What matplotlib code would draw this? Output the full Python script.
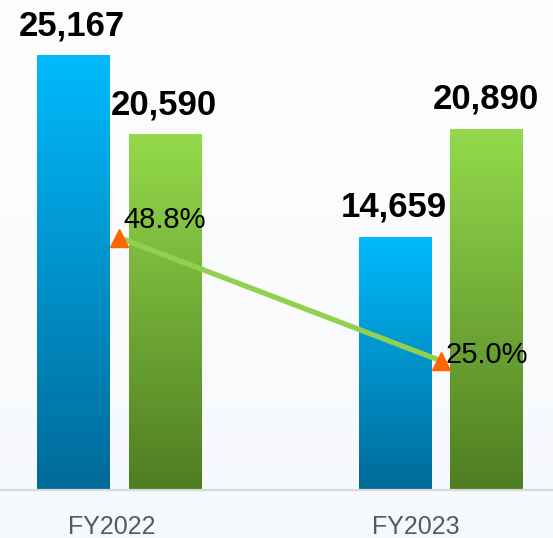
import numpy as np
import matplotlib
matplotlib.use("Agg")
import matplotlib.pyplot as plt
from matplotlib.colors import LinearSegmentedColormap
from matplotlib.transforms import ScaledTranslation

years = ["FY2022", "FY2023"]
blue_vals = [25167, 14659]
green_vals = [20590, 20890]
pct_vals = [48.8, 25.0]
pct_labels = ["48.8%", "25.0%"]

plt.rcParams['font.family'] = ['Liberation Sans', 'DejaVu Sans']

fig = plt.figure(figsize=(5.53, 5.38), dpi=100)

# soft background gradient
bg = fig.add_axes([0, 0, 1, 1], zorder=-2)
bg_cmap = LinearSegmentedColormap.from_list("bg", ["#fefefe", "#f6f9fc"])
bg.imshow(np.linspace(0, 1, 256).reshape(-1, 1), cmap=bg_cmap, aspect="auto",
          extent=(0, 1, 0, 1), origin="upper")
bg.axis("off")

ax = fig.add_axes([0, 48 / 538, 1, 490 / 538])
ax.patch.set_alpha(0)

blue_cmap = LinearSegmentedColormap.from_list("b", ["#006a99", "#00bafc"])
green_cmap = LinearSegmentedColormap.from_list("g", ["#4e7d22", "#94da4b"])

x = np.arange(len(years))
w = 0.227
off = 0.143
grad = np.linspace(0, 1, 256).reshape(-1, 1)

for i in x:
    for val, dx, cm in [(blue_vals[i], -off, blue_cmap), (green_vals[i], off, green_cmap)]:
        x0 = i + dx - w / 2
        ax.imshow(grad, cmap=cm, origin="lower", aspect="auto",
                  extent=(x0, x0 + w, 0, val), zorder=2)
        ax.annotate(f"{val:,}", (i + dx, val), xytext=(-1, 15), textcoords="offset points",
                    ha="center", va="baseline", fontsize=25, fontweight="bold", color="black")

ax.set_xlim(-0.3717, 1.3484)
ax.set_ylim(0, 28410)
ax.set_yticks([])
for s in ["top", "left", "right"]:
    ax.spines[s].set_visible(False)
ax.spines["bottom"].set_color("#d9d9d9")
ax.spines["bottom"].set_linewidth(1.6)
ax.set_xticks(x)
ax.set_xticklabels(years, fontsize=18, color="#595959")
ax.tick_params(axis="x", length=0, pad=18)
label_shift = [-7.5, -25]
for lab, sh in zip(ax.get_xticklabels(), label_shift):
    lab.set_transform(lab.get_transform() + ScaledTranslation(sh / 100, 0, fig.dpi_scale_trans))

ax2 = ax.twinx()
ax2.plot(x, pct_vals, color="#92d050", lw=3.8, zorder=3, solid_capstyle="butt")
ax2.plot(x, pct_vals, ls="none", marker="^", ms=13, color="#ff6600", zorder=4)
ax2.set_ylim(0, 94.8)
ax2.set_yticks([])
ax2.axis("off")
pct_offsets = [(3, 7), (3.6, -1.5)]
for i, (lab, o) in enumerate(zip(pct_labels, pct_offsets)):
    ax2.annotate(lab, (x[i], pct_vals[i]), xytext=o, textcoords="offset points",
                 ha="left", va="baseline", fontsize=21, color="black")

fig.savefig("out.png", dpi=100)
